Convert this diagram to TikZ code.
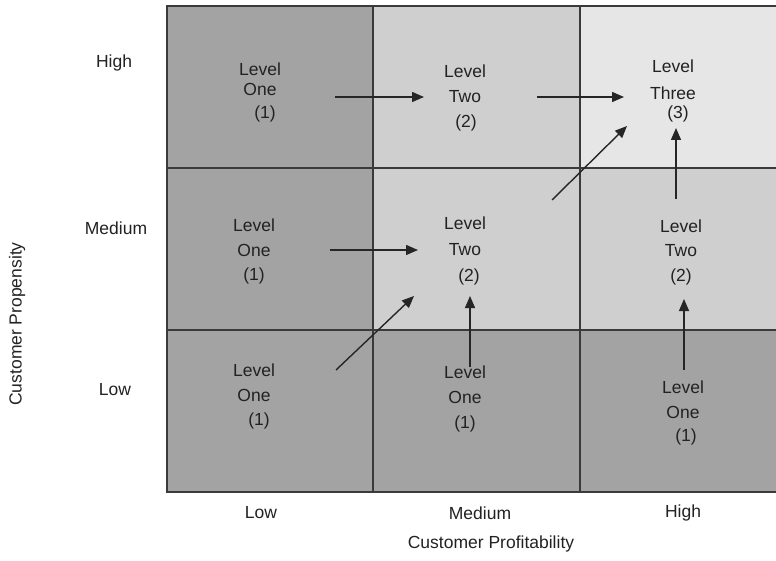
\documentclass[tikz,border=0pt]{standalone}
\usepackage{fontspec}
\setmainfont{Liberation Sans}
\usetikzlibrary{arrows.meta}
\definecolor{cdark}{HTML}{A3A3A3}
\definecolor{cmid}{HTML}{CFCFCF}
\definecolor{clight}{HTML}{E6E6E6}
\definecolor{cline}{HTML}{3A3A3A}
\definecolor{ctext}{HTML}{222222}
\begin{document}
\begin{tikzpicture}[x=1pt,y=-1pt,
  gridline/.style={draw=cline,line width=1.4pt},
  txt/.style={inner sep=0pt,text=ctext,font=\fontsize{17.5}{20}\selectfont},
  arr/.style={draw=black!85,line width=1.4pt,-{Triangle[length=12pt,width=10pt]}}]
\useasboundingbox (0,0) rectangle (776,561);
% cells
\fill[cdark]  (167,6) rectangle (373,168);
\fill[cmid]   (373,6) rectangle (580,168);
\fill[clight] (580,6) rectangle (776,168);
\fill[cdark]  (167,168) rectangle (373,330);
\fill[cmid]   (373,168) rectangle (580,330);
\fill[cmid]   (580,168) rectangle (776,330);
\fill[cdark]  (167,330) rectangle (776,492);
% grid lines
\draw[gridline] (776,6) -- (167,6) -- (167,492) -- (776,492);
\draw[gridline] (373,6) -- (373,492);
\draw[gridline] (580,6) -- (580,492);
\draw[gridline] (167,168) -- (776,168);
\draw[gridline] (167,330) -- (776,330);
% cell texts: High row
\node[txt] (a1) at (260,69) {Level};
\node[txt] (a2) at (260,89) {One};
\node[txt] (a3) at (265,114) {(1)};
\node[txt] (b1) at (465,71) {Level};
\node[txt] (b2) at (465,97) {Two};
\node[txt] (b3) at (466,123) {(2)};
\node[txt] (c1) at (673,66) {Level};
\node[txt] (c2) at (673,93) {Three};
\node[txt] (c3) at (678,114) {(3)};
% Medium row
\node[txt] (d1) at (254,225) {Level};
\node[txt] (d2) at (254,250) {One};
\node[txt] (d3) at (254,276) {(1)};
\node[txt] (e1) at (465,223) {Level};
\node[txt] (e2) at (465,250) {Two};
\node[txt] (e3) at (469,277) {(2)};
\node[txt] (f1) at (681,226) {Level};
\node[txt] (f2) at (681,251) {Two};
\node[txt] (f3) at (681,277) {(2)};
% Low row
\node[txt] (g1) at (254,370) {Level};
\node[txt] (g2) at (254,395) {One};
\node[txt] (g3) at (259,421) {(1)};
\node[txt] (h1) at (465,372) {Level};
\node[txt] (h2) at (465,397) {One};
\node[txt] (h3) at (465,424) {(1)};
\node[txt] (i1) at (683,387) {Level};
\node[txt] (i2) at (683,412) {One};
\node[txt] (i3) at (686,437) {(1)};
% axis labels
\node[txt] (rH) at (114,63) {High};
\node[txt] (rM) at (116,228) {Medium};
\node[txt] (rL) at (115,390) {Low};
\node[txt] (cL) at (261,513) {Low};
\node[txt] (cM) at (480,513) {Medium};
\node[txt] (cH) at (683,513) {High};
\node[txt] (xl) at (491,544) {Customer Profitability};
\node[txt,rotate=90] (yl) at (17,324) {Customer Propensity};
% arrow end points
\coordinate (p1s) at (335,97);  \coordinate (p1e) at (424,97);
\coordinate (p2s) at (537,97);  \coordinate (p2e) at (624,97);
\coordinate (p3s) at (552,200); \coordinate (p3e) at (627,126);
\coordinate (p4s) at (676,199); \coordinate (p4e) at (676,128);
\coordinate (p5s) at (330,250); \coordinate (p5e) at (418,250);
\coordinate (p6s) at (336,370); \coordinate (p6e) at (414,296);
\coordinate (p7s) at (470,367); \coordinate (p7e) at (470,296);
\coordinate (p8s) at (684,370); \coordinate (p8e) at (684,299);
\draw[arr] (p1s) -- (p1e);
\draw[arr] (p2s) -- (p2e);
\draw[arr] (p3s) -- (p3e);
\draw[arr] (p4s) -- (p4e);
\draw[arr] (p5s) -- (p5e);
\draw[arr] (p6s) -- (p6e);
\draw[arr] (p7s) -- (p7e);
\draw[arr] (p8s) -- (p8e);
\end{tikzpicture}
\end{document}
